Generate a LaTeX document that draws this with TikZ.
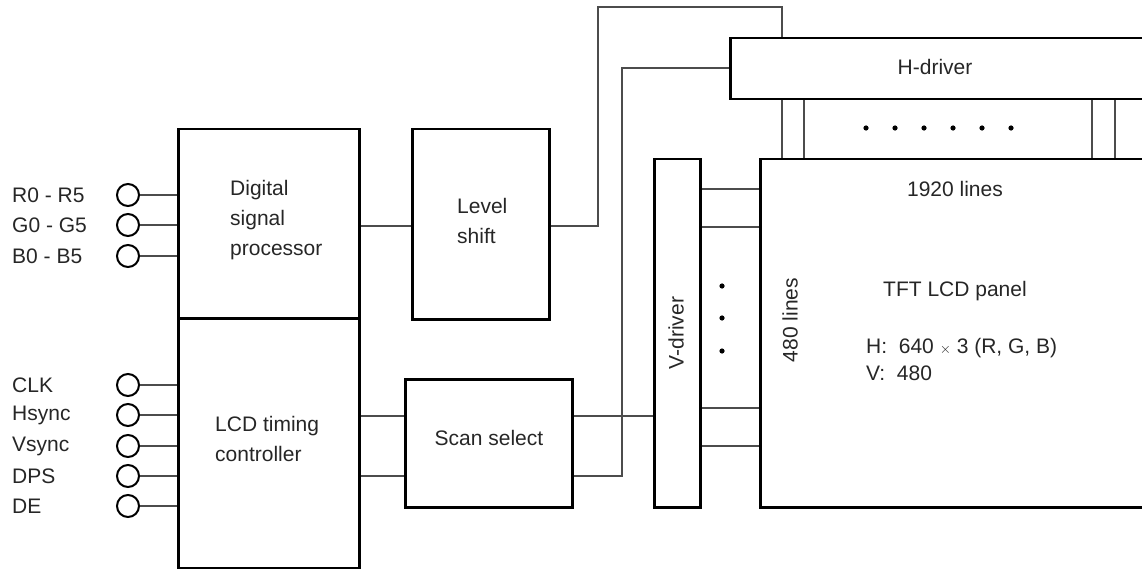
\documentclass[tikz,border=0pt]{standalone}
\usepackage{fontspec}
\setmainfont{Liberation Sans}
\begin{document}
\begin{tikzpicture}[x=1pt,y=-1pt,
  blk/.style={draw=black,line width=2.5pt,rectangle,inner sep=0pt,anchor=north west},
  wire/.style={draw=black!70,line width=1.1pt},
  pin/.style={draw=black,line width=2pt,circle,inner sep=0pt,minimum size=22pt},
  txt/.style={inner sep=0pt,text=black!85,font=\fontsize{21}{30}\selectfont},
  dotm/.style={fill=black}]
\useasboundingbox (0,0) rectangle (1142,569);
\clip (0,0) rectangle (1142,569);
% blocks
\node[blk,minimum width=181pt,minimum height=189pt] (dsp) at (177,128) {};
\node[blk,minimum width=181pt,minimum height=250pt] (lcd) at (177,317) {};
\node[blk,minimum width=137pt,minimum height=190pt] (ls) at (411,128) {};
\node[blk,minimum width=167pt,minimum height=128pt] (ss) at (404,378) {};
\node[blk,minimum width=431pt,minimum height=61pt] (hdrv) at (729,37) {};
\node[blk,minimum width=46pt,minimum height=348pt] (vdrv) at (653,158) {};
\node[blk,minimum width=401pt,minimum height=348pt] (panel) at (759,158) {};
% texts
\node[txt,anchor=west,align=left] (tdsp) at (230,220) {Digital\\signal\\processor};
\node[txt,anchor=west,align=left] (tls) at (457,221) {Level\\shift};
\node[txt,anchor=west,align=left] (tlcd) at (215,439) {LCD timing\\controller};
\node[txt] (tss) at (489,438) {Scan select};
\node[txt] (thd) at (935,67) {H-driver};
\node[txt,rotate=90] (tvd) at (676,333) {V-driver};
\node[txt] (t1920) at (955,189) {1920 lines};
\node[txt,rotate=90] (t480) at (790,320) {480 lines};
\node[txt,anchor=west] (ttft) at (883,291) {TFT LCD panel};
\node[txt,anchor=west] (th) at (866,348) {H:\ \ 640 {\fontsize{15}{15}\selectfont$\times$} 3 (R, G, B)};
\node[txt,anchor=west] (tv) at (866,373) {V:\ \ 480};
% input pins
\foreach \n/\y/\l in {r/195/R0 - R5,g/225/G0 - G5,b/256/B0 - B5}{
  \node[pin] (p\n) at (128,\y) {};
  \node[txt,anchor=west] (l\n) at (12,\y) {\l};
  \draw[wire] (p\n.east) -- (p\n.east -| dsp.west);
}
\foreach \n/\y/\l in {clk/385/CLK,hs/415/Hsync,vs/446/Vsync,dps/476/DPS,de/506/DE}{
  \node[pin] (p\n) at (128,\y) {};
  \node[txt,anchor=west] (l\n) at (12,\y) {\l};
  \draw[wire] (p\n.east) -- (p\n.east -| lcd.west);
}
% connectors
\draw[wire] (dsp.east |- 0,226) -- (ls.west |- 0,226);
\draw[wire] (ls.east |- 0,226) -- (598,226) -- (598,7) -- (782,7) -- (hdrv.north -| 782,0);
\draw[wire] (lcd.east |- 0,416) -- (ss.west |- 0,416);
\draw[wire] (lcd.east |- 0,476) -- (ss.west |- 0,476);
\draw[wire] (ss.east |- 0,416) -- (vdrv.west |- 0,416);
\draw[wire] (ss.east |- 0,476) -- (622,476) -- (622,68) -- (hdrv.west |- 0,68);
\foreach \y in {189,227,408,446}{
  \draw[wire] (vdrv.east |- 0,\y) -- (panel.west |- 0,\y);
}
\foreach \x in {782,804,1092,1115}{
  \draw[wire] (hdrv.south -| \x,0) -- (panel.north -| \x,0);
}
% dots
\foreach \y in {286,318,351}{ \fill[dotm] (722,\y) circle (2.6pt); }
\foreach \x in {866,895,924,953,982,1011}{ \fill[dotm] (\x,128) circle (2.6pt); }
\end{tikzpicture}
\end{document}
